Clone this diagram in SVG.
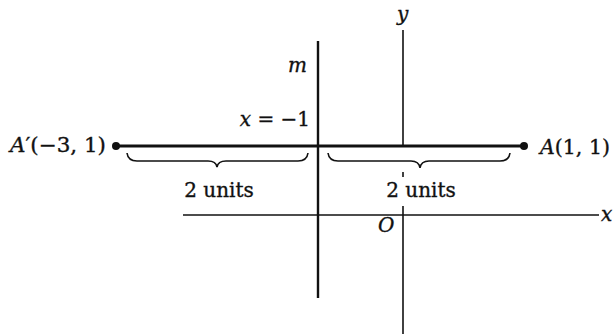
<svg xmlns="http://www.w3.org/2000/svg" width="613" height="334" viewBox="0 0 613 334">
<style>
.t{font-family:"DejaVu Serif","Liberation Serif",serif;font-size:20px;fill:#111;stroke:#111;stroke-width:0.35}
.i{font-style:italic}
.ax{stroke:#111;stroke-width:1.6;fill:none}
.br{stroke:#111;stroke-width:1.6;fill:none}
</style>
<rect width="613" height="334" fill="#fff"/>
<g id="axes">
<line class="ax" x1="403" y1="30" x2="403" y2="146"/>
<line class="ax" x1="403" y1="172" x2="403" y2="177"/>
<line class="ax" x1="403" y1="206" x2="403" y2="334"/>
<line class="ax" x1="183" y1="215" x2="599" y2="215"/>
<line id="m" stroke="#111" stroke-width="2.4" x1="318" y1="41" x2="318" y2="298"/>
</g>
<g id="segment">
<line stroke="#111" stroke-width="3" x1="116" y1="146" x2="524" y2="146"/>
<circle cx="116" cy="146" r="4" fill="#111"/>
<circle cx="524" cy="146" r="4" fill="#111"/>
</g>
<g id="braces">
<path class="br" d="M127,153 Q128,161 137,161 L208,161 Q216,161 217,167 Q218,161 226,161 L298,161 Q307,161 308,153"/>
<path class="br" d="M328,153 Q329,161 338,161 L411,161 Q419,161 420,168 Q421,161 429,161 L500,161 Q509,161 510,153"/>
</g>
<g id="labels">
<text class="t i" x="397" y="21">y</text>
<text class="t i" x="288" y="72">m</text>
<text class="t" x="310" y="126" text-anchor="end"><tspan class="i">x</tspan> = −1</text>
<text class="t" x="10" y="152" textLength="96" lengthAdjust="spacingAndGlyphs"><tspan class="i">A</tspan>′(−3, 1)</text>
<text class="t" x="540" y="154" textLength="70" lengthAdjust="spacingAndGlyphs"><tspan class="i">A</tspan>(1, 1)</text>
<text class="t" x="219" y="197" text-anchor="middle">2 units</text>
<text class="t" x="421" y="197" text-anchor="middle">2 units</text>
<text class="t i" x="378" y="232">O</text>
<text class="t i" x="601" y="221">x</text>
</g>
</svg>
